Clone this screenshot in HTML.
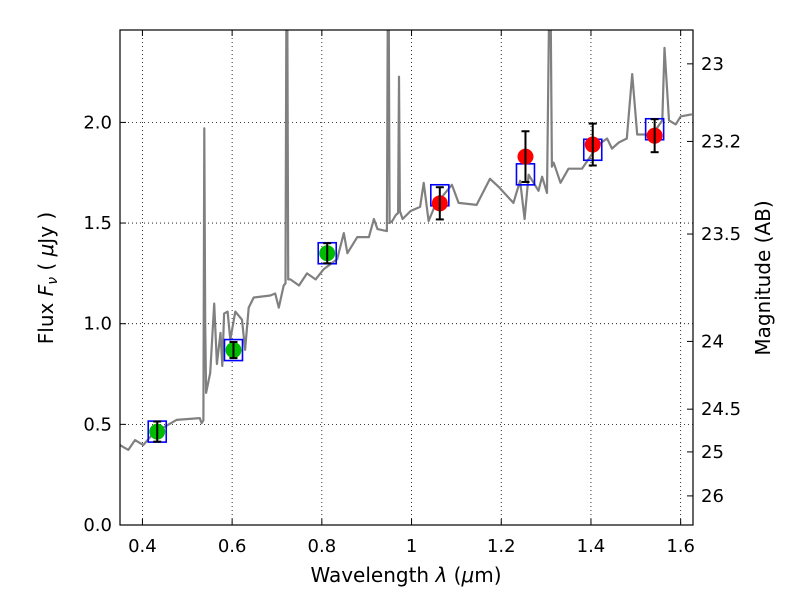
<!DOCTYPE html>
<html><head><meta charset="utf-8"><style>
html,body{margin:0;padding:0;background:#fff;}
svg{display:block;font-family:"DejaVu Sans","Liberation Sans",sans-serif;}
</style></head><body>
<svg id="c" width="800" height="600" xmlns="http://www.w3.org/2000/svg"></svg>
<script>
const specX=[0.35,0.3686,0.3835,0.402,0.424,0.476,0.528,0.532,0.536,0.538,0.540,0.542,0.551,0.56,0.566,0.574,0.578,0.582,0.590,0.596,0.607,0.622,0.629,0.637,0.648,0.685,0.696,0.704,0.715,0.719,0.721,0.723,0.725,0.730,0.749,0.767,0.786,0.804,0.834,0.849,0.857,0.879,0.905,0.916,0.924,0.945,0.947,0.949,0.951,0.957,0.965,0.970,0.972,0.974,0.98,0.998,1.019,1.027,1.038,1.053,1.090,1.105,1.145,1.175,1.194,1.227,1.242,1.252,1.261,1.283,1.291,1.302,1.307,1.310,1.313,1.317,1.332,1.350,1.380,1.417,1.436,1.447,1.462,1.480,1.492,1.503,1.537,1.559,1.564,1.574,1.589,1.600,1.625];
const specY=[0.397,0.373,0.422,0.397,0.455,0.522,0.531,0.506,0.52,1.97,1.0,0.656,0.755,1.10,0.80,0.955,0.79,1.05,1.06,0.92,1.06,1.02,0.87,1.08,1.13,1.14,1.15,1.08,1.19,1.2,2.6,2.6,1.22,1.22,1.19,1.25,1.22,1.27,1.32,1.45,1.35,1.43,1.43,1.52,1.47,1.46,2.6,2.6,1.5,1.51,1.54,1.55,2.227,1.56,1.52,1.56,1.58,1.70,1.51,1.59,1.69,1.60,1.59,1.72,1.68,1.60,1.71,1.52,1.74,1.66,1.73,1.65,2.6,2.6,1.78,1.80,1.70,1.77,1.77,1.89,1.92,1.87,1.90,1.92,2.24,1.94,1.94,2.01,2.37,2.01,1.99,2.03,2.04];
const optX=[0.433,0.603,0.812];
const optY=[0.464,0.869,1.35];
const optErr=[0.05,0.04,0.05];
const nirX=[1.063,1.254,1.404,1.542];
const nirY=[1.598,1.83,1.89,1.934];
const nirErr=[0.08,0.126,0.104,0.082];
const modelX=[0.433,0.603,0.812,1.063,1.254,1.404,1.542];
const modelY=[0.464,0.869,1.35,1.638,1.742,1.864,1.966];
const xTicks=[0.4,0.6,0.8,1.0,1.2,1.4,1.6];
const xTickLabels=["0.4","0.6","0.8","1","1.2","1.4","1.6"];
const yTicks=[0,0.5,1.0,1.5,2.0];
const yTickLabels=["0.0","0.5","1.0","1.5","2.0"];
const magTicks=[23,23.2,23.5,24,24.5,25,26];
const magTickLabels=["23","23.2","23.5","24","24.5","25","26"];

const L=120,R=693,T=30,B=525,X0=0.35,X1=1.6275,Y0=0,Y1=2.459;
const sx=v=>L+(v-X0)/(X1-X0)*(R-L);
const sy=v=>B-(v-Y0)/(Y1-Y0)*(B-T);
const magToF=m=>Math.pow(10,(23.9-m)/2.5);
const svg=document.getElementById('c');
const NS='http://www.w3.org/2000/svg';
function mk(tag,attrs,parent){const e=document.createElementNS(NS,tag);for(const k in attrs)e.setAttribute(k,attrs[k]);(parent||svg).appendChild(e);return e;}

const defs=mk('defs',{});
const cp=mk('clipPath',{id:'clip'},defs);
mk('rect',{x:L,y:T,width:R-L,height:B-T},cp);

xTicks.forEach((t,i)=>{
  const g=mk('line',{x1:sx(t),x2:sx(t),y1:T,y2:B,stroke:'#000','stroke-width':0.8,'stroke-dasharray':'1,3'});
  
  
  const a=mk('line',{x1:sx(t),x2:sx(t),y1:B,y2:B-6,stroke:'#000'});
  
  
  const b=mk('line',{x1:sx(t),x2:sx(t),y1:T,y2:T+6,stroke:'#000'});
  
  
  const tx=mk('text',{x:sx(t),y:B+27,'font-size':18,'text-anchor':'middle'});
  tx.textContent=xTickLabels[i];
  
  
});
yTicks.forEach((t,i)=>{
  const g=mk('line',{x1:L,x2:R,y1:sy(t),y2:sy(t),stroke:'#000','stroke-width':0.8,'stroke-dasharray':'1,3'});
  
  
  const a=mk('line',{x1:L,x2:L+6,y1:sy(t),y2:sy(t),stroke:'#000'});
  
  
  const tx=mk('text',{x:L-8,y:sy(t)+6,'font-size':18,'text-anchor':'end'});
  tx.textContent=yTickLabels[i];
  
  
});
magTicks.forEach((m,i)=>{
  const y=sy(magToF(m));
  const a=mk('line',{x1:R,x2:R-6,y1:y,y2:y,stroke:'#000'});
  
  
  const tx=mk('text',{x:R+8,y:y+6,'font-size':18});
  tx.textContent=magTickLabels[i];
  
  
});

const pts=specX.map((x,i)=>sx(x).toFixed(1)+','+sy(specY[i]).toFixed(1)).join(' ');
const sp=mk('polyline',{points:pts,fill:'none',stroke:'#808080','stroke-width':2.2,'stroke-linejoin':'round','clip-path':'url(#clip)'});



modelX.forEach((x,i)=>{
  const r=mk('rect',{x:sx(x)-9,y:sy(modelY[i])-10.5,width:18,height:21,fill:'none',stroke:'#0000ff','stroke-width':1.6});
  
  
});
function pointsWithErr(xs,ys,es,color,name){
  xs.forEach((x,i)=>{
    const cx=sx(x),cy=sy(ys[i]);
    const c=mk('circle',{cx:cx,cy:cy,r:8,fill:color});
    
    
    const y1=sy(ys[i]+es[i]),y2=sy(ys[i]-es[i]);
    const g=mk('g',{stroke:'#000','stroke-width':2});
    
    
    mk('line',{x1:cx,x2:cx,y1:y1,y2:y2},g);
    mk('line',{x1:cx-4,x2:cx+4,y1:y1,y2:y1},g);
    mk('line',{x1:cx-4,x2:cx+4,y1:y2,y2:y2},g);
  });
}
pointsWithErr(optX,optY,optErr,'#00bb00','optical');
pointsWithErr(nirX,nirY,nirErr,'#ff0000','nir');

const fr=mk('rect',{x:L,y:T,width:R-L,height:B-T,fill:'none',stroke:'#000','stroke-width':1.2});



const xl=mk('text',{x:406,y:582,'font-size':20,'text-anchor':'middle'});
xl.innerHTML='Wavelength  <tspan font-style="italic">λ</tspan> (<tspan font-style="italic">μ</tspan>m)';


const yl=mk('text',{x:0,y:0,'font-size':20,'text-anchor':'middle',transform:'translate(53,278) rotate(-90)'});
yl.innerHTML='Flux  <tspan font-style="italic">F</tspan><tspan font-style="italic" font-size="14" dy="4">ν</tspan><tspan dy="-4">  ( </tspan><tspan font-style="italic">μ</tspan>Jy )';


const rl=mk('text',{x:0,y:0,'font-size':20,'text-anchor':'middle',transform:'translate(770,278) rotate(-90)'});
rl.textContent='Magnitude (AB)';


</script>
</body></html>
